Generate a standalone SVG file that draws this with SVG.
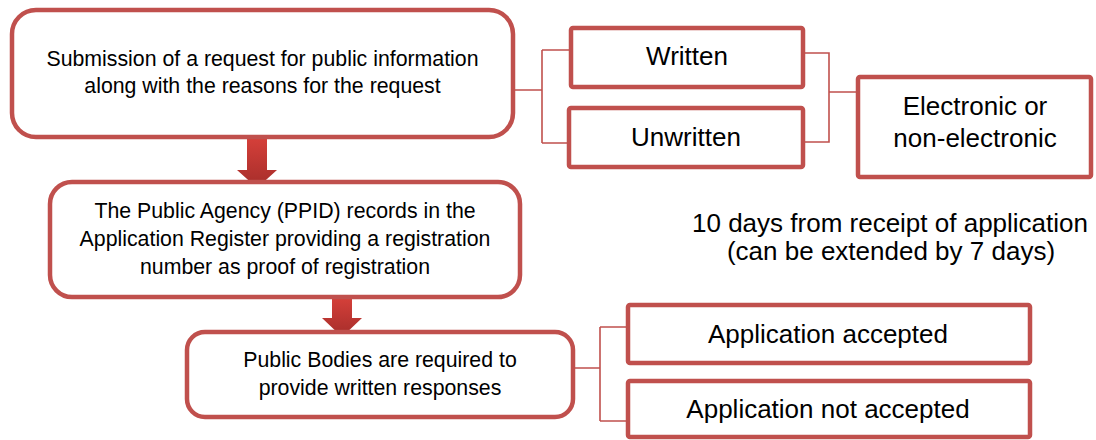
<svg xmlns="http://www.w3.org/2000/svg" width="1096" height="440" viewBox="0 0 1096 440">
<defs>
<linearGradient id="arrowGrad" x1="0" y1="0" x2="0" y2="1">
<stop offset="0" stop-color="#d6403a"/>
<stop offset="1" stop-color="#a52d2a"/>
</linearGradient>
<style>
.rbox{fill:#ffffff;stroke:#c0504d;stroke-width:4.5}
.sbox{fill:#ffffff;stroke:#c0504d;stroke-width:4.5}
.conn{fill:none;stroke:#c0504d;stroke-width:1.6}
.arrow{fill:url(#arrowGrad);stroke:none}
.tl{font-family:"Liberation Sans",Arial,sans-serif;font-size:21.3px;fill:#000000;text-anchor:middle}
.tr{font-family:"Liberation Sans",Arial,sans-serif;font-size:26px;fill:#000000;text-anchor:middle}
</style>
</defs>
<rect width="1096" height="440" fill="#ffffff"/>

<g id="connectors">
<path class="conn" d="M513,90 H542 M542,50 V143 M542,50 H571 M542,143 H569"/>
<path class="conn" d="M803,53 H829 V142 H803 M829,92 H858"/>
<path class="conn" d="M573,368 H600 M600,327 V421 M600,327 H628 M600,421 H628"/>
<path class="arrow" d="M247,137 H267 V170 H277 L257,188 L237,170 H247 Z"/>
<path class="arrow" d="M332,297 H352 V318 H362 L342,337 L322,318 H332 Z"/>
</g>

<g id="node-submission">
<rect class="rbox" x="12" y="10" width="501" height="127" rx="24" ry="24"/>
<text class="tl" x="262.5" y="66">Submission of a request for public information</text>
<text class="tl" x="262.5" y="93">along with the reasons for the request</text>
</g>

<g id="node-written">
<rect class="sbox" x="571" y="28" width="232" height="59" rx="2"/>
<text class="tr" x="687" y="65">Written</text>
</g>

<g id="node-unwritten">
<rect class="sbox" x="569" y="108" width="234" height="59" rx="2"/>
<text class="tr" x="686" y="146">Unwritten</text>
</g>

<g id="node-electronic">
<rect class="sbox" x="858" y="77" width="233" height="100" rx="2"/>
<text class="tr" x="975" y="115">Electronic or</text>
<text class="tr" x="975" y="147">non-electronic</text>
</g>

<g id="node-ppid">
<rect class="rbox" x="50" y="182" width="470" height="115" rx="22" ry="22"/>
<text class="tl" x="285" y="218">The Public Agency (PPID) records in the</text>
<text class="tl" x="285" y="246">Application Register providing a registration</text>
<text class="tl" x="285" y="274">number as proof of registration</text>
</g>

<g id="node-deadline">
<text class="tr" x="890" y="232">10 days from receipt of application</text>
<text class="tr" x="891" y="260">(can be extended by 7 days)</text>
</g>

<g id="node-public-bodies">
<rect class="rbox" x="187" y="332" width="386" height="85" rx="18" ry="18"/>
<text class="tl" x="380" y="367">Public Bodies are required to</text>
<text class="tl" x="380" y="395">provide written responses</text>
</g>

<g id="node-accepted">
<rect class="sbox" x="628" y="305" width="402" height="58" rx="2"/>
<text class="tr" x="828" y="343">Application accepted</text>
</g>

<g id="node-not-accepted">
<rect class="sbox" x="628" y="381" width="402" height="56" rx="2"/>
<text class="tr" x="828" y="418">Application not accepted</text>
</g>
</svg>
